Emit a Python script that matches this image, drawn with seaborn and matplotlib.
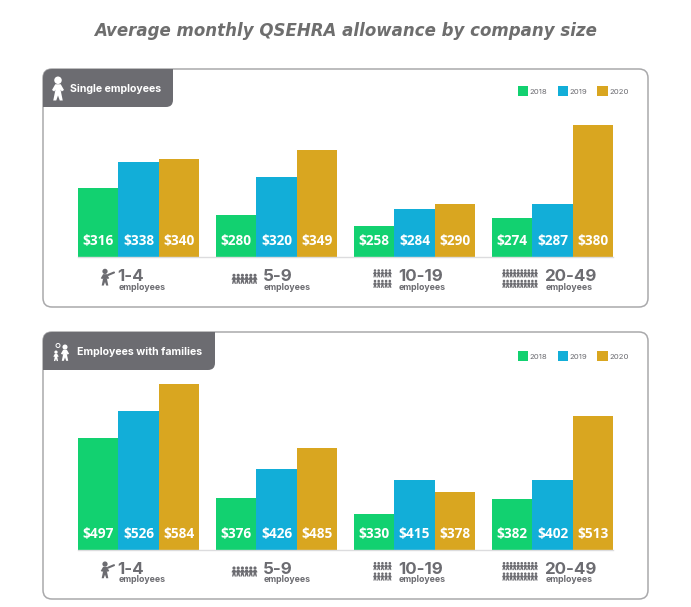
import matplotlib
matplotlib.use("Agg")
import matplotlib.pyplot as plt
from matplotlib.patches import FancyBboxPatch, PathPatch, Circle
from matplotlib.path import Path
from matplotlib.transforms import blended_transform_factory
import pandas as pd
import seaborn as sns

W, H = 691, 607
sizes = ["1-4", "5-9", "10-19", "20-49"]
years = ["2018", "2019", "2020"]
colors = ["#12D170", "#12AED8", "#D9A620"]

# Printed dollar values
single_2018 = [316, 280, 258, 274]
single_2019 = [338, 320, 284, 287]
single_2020 = [340, 349, 290, 380]
family_2018 = [497, 376, 330, 382]
family_2019 = [526, 426, 415, 402]
family_2020 = [584, 485, 378, 513]

# Drawn bar lengths (the chart's scale is not linear in the printed values)
single_2018_len = [69, 42.5, 31, 39]
single_2019_len = [95, 80, 48.5, 53.5]
single_2020_len = [98, 107, 53.5, 132.5]
family_2018_len = [111.7, 52.2, 36.2, 50.7]
family_2019_len = [138.7, 80.7, 69.7, 69.7]
family_2020_len = [166.2, 102.2, 58.2, 133.7]

GREY = "#6C6C71"
sns.set_theme(style="white")
plt.rcParams["font.family"] = ["Inter", "DejaVu Sans"]

fig = plt.figure(figsize=(W / 100, H / 100), dpi=100, facecolor="white")
bg = fig.add_axes([0, 0, 1, 1], zorder=0)
bg.set_xlim(0, W)
bg.set_ylim(H, 0)
bg.axis("off")


def panel(top, bottom, tab_right):
    bg.add_patch(FancyBboxPatch((43, top), 605, bottom - top, boxstyle="round,pad=0,rounding_size=9",
                                fc="white", ec="#A9A9AB", lw=1.1))
    tab_h = 38
    v = [(43, top + 9), (43, top + tab_h), (tab_right - 7, top + tab_h), (tab_right, top + tab_h),
         (tab_right, top + tab_h - 7), (tab_right, top), (52, top), (43, top), (43, top + 9)]
    c = [Path.MOVETO, Path.LINETO, Path.LINETO, Path.CURVE3, Path.CURVE3, Path.LINETO, Path.LINETO,
         Path.CURVE3, Path.CURVE3]
    bg.add_patch(PathPatch(Path(v, c), fc=GREY, ec="none"))


def person(x, y, s=1.0, col=GREY):
    """Small figure with head, arms and legs, centred on (x, y); s is half its height in px / 5."""
    bg.add_patch(Circle((x, y - 3.5 * s), 1.5 * s, fc=col, ec="none"))
    pts = [(-1.1, -1.9), (1.1, -1.9), (2.4, 0.4), (1.5, 1.0), (1.0, 0.2), (1.9, 4.6), (0.7, 4.6), (0, 2.6),
           (-0.7, 4.6), (-1.9, 4.6), (-1.0, 0.2), (-1.5, 1.0), (-2.4, 0.4), (-1.1, -1.9)]
    bg.add_patch(PathPatch(Path([(x + a * s, y + b * s) for a, b in pts]), fc=col, ec="none"))


def crowd(x0, y0, cols, rows, dx, dy, s):
    for r in range(rows):
        for c in range(cols):
            person(x0 + c * dx, y0 + r * dy, s)


def draw_chart(top, base, legend_y, bar_lists, value_lists):
    rows = []
    for yr, lens in zip(years, bar_lists):
        rows += [{"size": s, "year": yr, "bar": b} for s, b in zip(sizes, lens)]
    df = pd.DataFrame(rows)
    ax = fig.add_axes([78 / W, 1 - base / H, (613 - 78) / W, (base - top) / H], zorder=2)
    ax.patch.set_alpha(0)
    sns.barplot(data=df, x="size", y="bar", hue="year", hue_order=years, palette=colors, width=0.881,
                gap=0, saturation=1, dodge=True, ax=ax, legend=True, errorbar=None, linewidth=0)
    ax.set_xlim(-0.4405, 3.439)
    ax.set_ylim(0, base - top)
    ax.set(xlabel="", ylabel="", yticks=[], xticks=[])
    for sp in ["top", "left", "right"]:
        ax.spines[sp].set_visible(False)
    ax.spines["bottom"].set_color("#DCDCDE")
    ax.spines["bottom"].set_linewidth(1)
    for cont, vals in zip(ax.containers, value_lists):
        for patch, val in zip(cont.patches, vals):
            ax.annotate(f"${val}", (patch.get_x() + patch.get_width() / 2, 0), xytext=(0, 11.5),
                        textcoords="offset points", ha="center", va="center", color="white",
                        fontsize=9.8, fontweight="bold", family=["Open Sans", "DejaVu Sans"])
    tr = blended_transform_factory(ax.transData, ax.transAxes)
    lefts = [-21, -13.5, -16.5, -8]
    for i, s in enumerate(sizes):
        ax.annotate(s, (i, 0), xycoords=tr, xytext=(lefts[i] * .72, -14), textcoords="offset points",
                    ha="left", va="center", fontsize=12.2, fontweight="bold", color=GREY)
        ax.annotate("employees", (i, 0), xycoords=tr, xytext=(lefts[i] * .72 + .6, -21.8), textcoords="offset points",
                    ha="left", va="center", fontsize=6.3, fontweight="bold", color=GREY)
    h, l = ax.get_legend_handles_labels()
    ax.legend(h, l, loc="center right", bbox_to_anchor=(629, legend_y), bbox_transform=bg.transData, ncol=3,
              frameon=False, fontsize=5.6, handlelength=1.3, handleheight=1.5, handletextpad=0.25,
              columnspacing=1.3, borderpad=0, borderaxespad=0, labelcolor=GREY)
    # icons under the category labels
    person(105, base + 20.5, 1.75)
    bg.plot([108, 114], [base + 18, base + 15.5], color=GREY, lw=1.5, solid_capstyle="round")
    crowd(234, base + 22, 6, 1, dx=4.2, dy=0, s=1.05)
    crowd(375, base + 16.5, 5, 2, dx=3.7, dy=10.5, s=0.85)
    crowd(504, base + 16.5, 10, 2, dx=3.55, dy=10.5, s=0.85)


panel(69, 307, 173)
panel(332, 599, 215)

draw_chart(107, 257, 91, [single_2018_len, single_2019_len, single_2020_len], [single_2018, single_2019, single_2020])
draw_chart(370, 549.7, 356, [family_2018_len, family_2019_len, family_2020_len], [family_2018, family_2019, family_2020])

# tab titles and their icons
bg.text(70, 89, "Single employees", color="white", fontsize=7.6, fontweight="bold", va="center", zorder=5)
bg.text(77, 352, "Employees with families", color="white", fontsize=7.6, fontweight="bold", va="center", zorder=5)
person(58, 89, 2.5, "white")
person(65, 353, 1.7, "white")
person(56, 356, 1.1, "white")
bg.add_patch(Circle((58, 345.5), 2, fc="none", ec="white", lw=.7))

bg.text(345.5, 31, "Average monthly QSEHRA allowance by company size", ha="center", va="center",
        fontsize=12.0, fontweight="bold", fontstyle="italic", color="#6E6E6E",
        family=["DejaVu Sans"])

fig.savefig("out.png", dpi=100)
